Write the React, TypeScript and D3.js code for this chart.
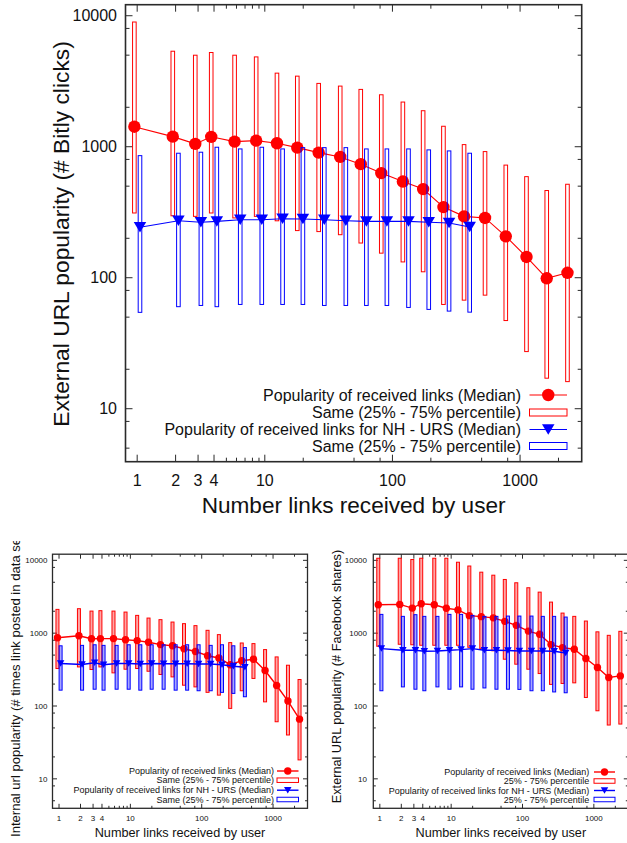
import React from 'react';
import * as d3 from 'd3';

// ---------- data ----------
const bins = [1, 2, 3, 4, 6.1, 9, 13.1, 18.9, 27.8, 41, 59.4, 86, 127, 183, 264, 383, 559, 813, 1181, 1702, 2474];

// Top: Bitly clicks
const bitlyMedian = [1422, 1194, 1051, 1190, 1094, 1113, 1063, 984, 902, 836, 736, 629, 542, 475, 346, 294, 286, 207, 144, 99, 109];
const bitlyP75 = [8955, 5359, 4996, 5239, 4996, 4849, 3645, 3458, 3043, 2903, 2739, 2492, 2193, 1883, 1433, 1038, 918, 724, 591, 463, 517];
const bitlyP25 = [312, 297, 294, 312, 286, 294, 272, 229, 225, 213, 184, 154, 132, 111, 62.5, 67.4, 73.6, 47.1, 27.3, 17.1, 16.1];
const bitlyNhMedian = [243, 272, 265, 269, 277, 277, 282, 281, 277, 272, 269, 269, 269, 265, 262, 244];
const bitlyNhP75 = [855, 892, 908, 991, 962, 991, 962, 984, 984, 984, 962, 962, 962, 946, 929, 892];
const bitlyNhP25 = [54.4, 60.1, 61.4, 60.1, 62.5, 62.5, 62.5, 62.5, 61.4, 61.4, 61.4, 61.4, 59.3, 57.3, 55.6, 54.6];

// Bottom left: internal popularity
const intMedian = [864, 920, 837, 842, 842, 811, 791, 750, 697, 671, 611, 561, 490, 457, 369, 419, 439, 307, 191, 117, 66];
const intP75 = [2121, 2168, 2010, 2036, 2010, 1948, 1755, 1612, 1533, 1421, 1351, 1269, 1094, 955, 742, 733, 719, 595, 472, 363, 231];
const intP25 = [327, 344, 317, 344, 285, 320, 327, 300, 271, 251, 193, 183, 154, 141, 92.7, 162, 239, 114, 60.8, 40, 18.2];
const intNhMedian = [383, 371, 393, 369, 383, 383, 377, 383, 380, 380, 380, 377, 377, 369, 352, 341];
const intNhP75 = [671, 680, 693, 680, 680, 693, 693, 693, 693, 693, 693, 693, 680, 693, 671, 634];
const intNhP25 = [165, 165, 170, 165, 170, 170, 165, 170, 170, 165, 165, 162, 162, 154, 149, 134];

// Bottom right: Facebook shares
const fbMedian = [2459, 2483, 2210, 2538, 2459, 2196, 2087, 1739, 1685, 1623, 1453, 1281, 1067, 965, 697, 634, 601, 448, 338, 246, 259];
const fbP75 = [10683, 10683, 10256, 10683, 10683, 10683, 9419, 8356, 6877, 6252, 5461, 4920, 4203, 3659, 2670, 1887, 1701, 1467, 1043, 934, 1060];
const fbP25 = [661, 704, 693, 682, 682, 682, 682, 640, 611, 573, 439, 375, 320, 279, 198, 204, 208, 131, 86, 54.8, 56.5];
const fbNhMedian = [614, 582, 582, 564, 570, 582, 595, 614, 582, 582, 577, 570, 570, 570, 564, 535];
const fbNhP75 = [1811, 1701, 1794, 1701, 1701, 1811, 1811, 1755, 1701, 1701, 1717, 1717, 1717, 1701, 1701, 1664];
const fbNhP25 = [162, 183, 170, 162, 183, 170, 183, 170, 177, 170, 170, 169, 162, 162, 156, 152];

// axes
const xDomain = [0.81, 3040];
const yDomain = [3.94, 12140];
const xMajorTicks = [1, 2, 3, 4, 10, 100, 1000];
const xTickLabels = ['1', '2', '3', '4', '10', '100', '1000'];
const xMinorTicks = [5, 6, 7, 8, 9, 20, 50, 80, 200, 500, 800, 2000];
const yMajorTicks = [10, 100, 1000, 10000];
const yTickLabels = ['10', '100', '1000', '10000'];
const yMinorTicks = [5, 8, 20, 50, 80, 200, 500, 800, 2000, 5000, 8000];

const xTitle = 'Number links received by user';
const legendTop = ['Popularity of received links (Median)', 'Same (25% - 75% percentile)', 'Popularity of received links for NH - URS (Median)', 'Same (25% - 75% percentile)'];
const legendFb = ['Popularity of received links (Median)', '25% - 75% percentile', 'Popularity of received links for NH - URS (Median)', '25% - 75% percentile'];

const RED = '#ff0000';
const BLUE = '#0000ff';
const AXIS = '#2a2a2a';
const FONT = "'Liberation Sans', Arial, sans-serif";
const SHIFT = 1.052;

type Cfg = {
  x0: number; x1: number; y0: number; y1: number;
  border: number; tickMaj: number; tickMin: number;
  tickFont: number; titleFont: number; yTitleFont: number; legendFont: number;
  r: number; triW: number; triH: number; boxW: number; lineW: number;
  boxFill: number;
  yLabelRight: number; xLabelBaseline: number; xTitleBaseline: number;
  yTitle: string; yTitleX: number; yTitleY: number; yTitleAnchor: string;
  legendTexts: string[]; legTextRight: number; legS0: number; legS1: number; legRows: number[]; legBoxH: number;
  median: number[]; p75: number[]; p25: number[];
  nhMedian: number[]; nhP75: number[]; nhP25: number[];
  clip?: { x: number; y: number; w: number; h: number };
  id: string;
};

function tri(cx: number, cy: number, w: number, h: number) {
  return `M${cx - w / 2},${cy - h / 2}L${cx + w / 2},${cy - h / 2}L${cx},${cy + h / 2}Z`;
}

function Chart({ c }: { c: Cfg }) {
  const x = d3.scaleLog().domain(xDomain).range([c.x0, c.x1]);
  const y = d3.scaleLog().domain(yDomain).range([c.y1, c.y0]);
  const redX = bins.map((b) => b / SHIFT);
  const blueX = bins.slice(0, c.nhMedian.length).map((b) => b * SHIFT);
  const line = d3.line<[number, number]>().x((d) => x(d[0])).y((d) => y(d[1]));
  const redPts: [number, number][] = c.median.map((v, i) => [redX[i], v]);
  const bluePts: [number, number][] = c.nhMedian.map((v, i) => [blueX[i], v]);

  const ticks: JSX.Element[] = [];
  xMajorTicks.forEach((t, i) => {
    const px = x(t);
    ticks.push(<line key={'xb' + i} x1={px} x2={px} y1={c.y1} y2={c.y1 - c.tickMaj} />);
    ticks.push(<line key={'xt' + i} x1={px} x2={px} y1={c.y0} y2={c.y0 + c.tickMaj} />);
  });
  xMinorTicks.forEach((t, i) => {
    const px = x(t);
    ticks.push(<line key={'xbm' + i} x1={px} x2={px} y1={c.y1} y2={c.y1 - c.tickMin} />);
    ticks.push(<line key={'xtm' + i} x1={px} x2={px} y1={c.y0} y2={c.y0 + c.tickMin} />);
  });
  yMajorTicks.forEach((t, i) => {
    const py = y(t);
    ticks.push(<line key={'yl' + i} x1={c.x0} x2={c.x0 + c.tickMaj} y1={py} y2={py} />);
    ticks.push(<line key={'yr' + i} x1={c.x1} x2={c.x1 - c.tickMaj} y1={py} y2={py} />);
  });
  yMinorTicks.forEach((t, i) => {
    const py = y(t);
    ticks.push(<line key={'ylm' + i} x1={c.x0} x2={c.x0 + c.tickMin} y1={py} y2={py} />);
    ticks.push(<line key={'yrm' + i} x1={c.x1} x2={c.x1 - c.tickMin} y1={py} y2={py} />);
  });

  const legMid = (c.legS0 + c.legS1) / 2;
  const capOff = c.legendFont * 0.36;

  return (
    <g clipPath={c.clip ? `url(#clip-${c.id})` : undefined} fontFamily={FONT}>
      {c.clip && (
        <defs>
          <clipPath id={`clip-${c.id}`}>
            <rect x={c.clip.x} y={c.clip.y} width={c.clip.w} height={c.clip.h} />
          </clipPath>
        </defs>
      )}
      {/* ticks */}
      <g stroke={AXIS} strokeWidth={1}>{ticks}</g>
      {/* tick labels */}
      <g fontSize={c.tickFont} fill="#111">
        {xMajorTicks.map((t, i) => (
          <text key={'xl' + i} x={x(t)} y={c.xLabelBaseline} textAnchor="middle">{xTickLabels[i]}</text>
        ))}
        {yMajorTicks.map((t, i) => (
          <text key={'yl' + i} x={c.yLabelRight} y={y(t) + c.tickFont * 0.36} textAnchor="end">{yTickLabels[i]}</text>
        ))}
      </g>
      {/* red median series */}
      <path d={line(redPts) || ''} fill="none" stroke={RED} strokeWidth={c.lineW} />
      {redPts.map((d, i) => (
        <circle key={'rc' + i} cx={x(d[0])} cy={y(d[1])} r={c.r} fill={RED} />
      ))}
      {/* red boxes */}
      {c.p75.map((v, i) => (
        <rect key={'rb' + i} x={x(redX[i]) - c.boxW / 2} y={y(v)} width={c.boxW} height={y(c.p25[i]) - y(v)}
          fill={RED} fillOpacity={c.boxFill} stroke={RED} strokeWidth={1} />
      ))}
      {/* blue median series */}
      <path d={line(bluePts) || ''} fill="none" stroke={BLUE} strokeWidth={c.lineW} />
      {bluePts.map((d, i) => (
        <path key={'bt' + i} d={tri(x(d[0]), y(d[1]), c.triW, c.triH)} fill={BLUE} />
      ))}
      {c.nhP75.map((v, i) => (
        <rect key={'bb' + i} x={x(blueX[i]) - c.boxW / 2} y={y(v)} width={c.boxW} height={y(c.nhP25[i]) - y(v)}
          fill={BLUE} fillOpacity={c.boxFill} stroke={BLUE} strokeWidth={1} />
      ))}
      {/* legend */}
      <g fontSize={c.legendFont} fill="#111" textAnchor="end">
        {c.legendTexts.map((t, i) => (
          <text key={'lt' + i} x={c.legTextRight} y={c.legRows[i] + capOff}>{t}</text>
        ))}
      </g>
      <line x1={c.legS0} x2={c.legS1} y1={c.legRows[0]} y2={c.legRows[0]} stroke={RED} strokeWidth={c.lineW} />
      <circle cx={legMid} cy={c.legRows[0]} r={c.r} fill={RED} />
      <rect x={c.legS0} y={c.legRows[1] - c.legBoxH / 2} width={c.legS1 - c.legS0} height={c.legBoxH} fill="none" stroke={RED} strokeWidth={1} />
      <line x1={c.legS0} x2={c.legS1} y1={c.legRows[2]} y2={c.legRows[2]} stroke={BLUE} strokeWidth={c.lineW} />
      <path d={tri(legMid, c.legRows[2], c.triW, c.triH)} fill={BLUE} />
      <rect x={c.legS0} y={c.legRows[3] - c.legBoxH / 2} width={c.legS1 - c.legS0} height={c.legBoxH} fill="none" stroke={BLUE} strokeWidth={1} />
      {/* frame */}
      <rect x={c.x0} y={c.y0} width={c.x1 - c.x0} height={c.y1 - c.y0} fill="none" stroke={AXIS} strokeWidth={c.border} />
      {/* titles */}
      <text x={(c.x0 + c.x1) / 2} y={c.xTitleBaseline} fontSize={c.titleFont} textAnchor="middle" fill="#111">{xTitle}</text>
      <text transform={`translate(${c.yTitleX},${c.yTitleY}) rotate(-90)`} fontSize={c.yTitleFont} textAnchor={c.yTitleAnchor} fill="#111">{c.yTitle}</text>
    </g>
  );
}

const topCfg: Cfg = {
  id: 'top', x0: 125.5, x1: 581.7, y0: 4.7, y1: 461.7,
  border: 1.6, tickMaj: 7, tickMin: 4,
  tickFont: 16, titleFont: 22.6, yTitleFont: 22.8, legendFont: 16,
  r: 6.2, triW: 12.5, triH: 10.5, boxW: 3.6, lineW: 1.1, boxFill: 0,
  yLabelRight: 117, xLabelBaseline: 486, xTitleBaseline: 513,
  yTitle: 'External URL popularity (# Bitly clicks)', yTitleX: 68.5, yTitleY: 234, yTitleAnchor: 'middle',
  legendTexts: legendTop, legTextRight: 521, legS0: 529.5, legS1: 567, legRows: [395, 412.5, 429.5, 446], legBoxH: 7,
  median: bitlyMedian, p75: bitlyP75, p25: bitlyP25, nhMedian: bitlyNhMedian, nhP75: bitlyNhP75, nhP25: bitlyNhP25,
};

const leftCfg: Cfg = {
  id: 'left', x0: 52.5, x1: 307.5, y0: 554.2, y1: 808.3,
  border: 1.3, tickMaj: 4.5, tickMin: 2.5,
  tickFont: 8, titleFont: 12.7, yTitleFont: 13.1, legendFont: 9,
  r: 3.7, triW: 7.5, triH: 6.5, boxW: 3, lineW: 1.4, boxFill: 0.35,
  yLabelRight: 47.5, xLabelBaseline: 820.8, xTitleBaseline: 837,
  yTitle: 'Internal url popularity (# times link posted in data set)', yTitleX: 19.5, yTitleY: 837, yTitleAnchor: 'start',
  legendTexts: legendTop, legTextRight: 274, legS0: 277, legS1: 298.5, legRows: [771, 780.2, 790.2, 799.5], legBoxH: 4.5,
  median: intMedian, p75: intP75, p25: intP25, nhMedian: intNhMedian, nhP75: intNhP75, nhP25: intNhP25,
  clip: { x: 0, y: 541, w: 318, h: 302 },
};

const rightCfg: Cfg = {
  id: 'right', x0: 373.3, x1: 628.3, y0: 554.2, y1: 808.3,
  border: 1.3, tickMaj: 4.5, tickMin: 2.5,
  tickFont: 8, titleFont: 12.7, yTitleFont: 12.7, legendFont: 9,
  r: 3.7, triW: 7.5, triH: 6.5, boxW: 3, lineW: 1.4, boxFill: 0.35,
  yLabelRight: 367, xLabelBaseline: 820.8, xTitleBaseline: 837,
  yTitle: 'External URL popularity (# Facebook shares)', yTitleX: 340.5, yTitleY: 676.5, yTitleAnchor: 'middle',
  legendTexts: legendFb, legTextRight: 589.3, legS0: 594, legS1: 615, legRows: [772, 781, 790.5, 799.5], legBoxH: 4.5,
  median: fbMedian, p75: fbP75, p25: fbP25, nhMedian: fbNhMedian, nhP75: fbNhP75, nhP25: fbNhP25,
};

export default function App() {
  return (
    <svg width={627} height={843} viewBox="0 0 627 843"
      style={{ position: 'absolute', left: 0, top: 0, background: '#fff', display: 'block' }}>
      <rect x={0} y={0} width={627} height={843} fill="#fff" />
      <Chart c={topCfg} />
      <Chart c={leftCfg} />
      <Chart c={rightCfg} />
    </svg>
  );
}
